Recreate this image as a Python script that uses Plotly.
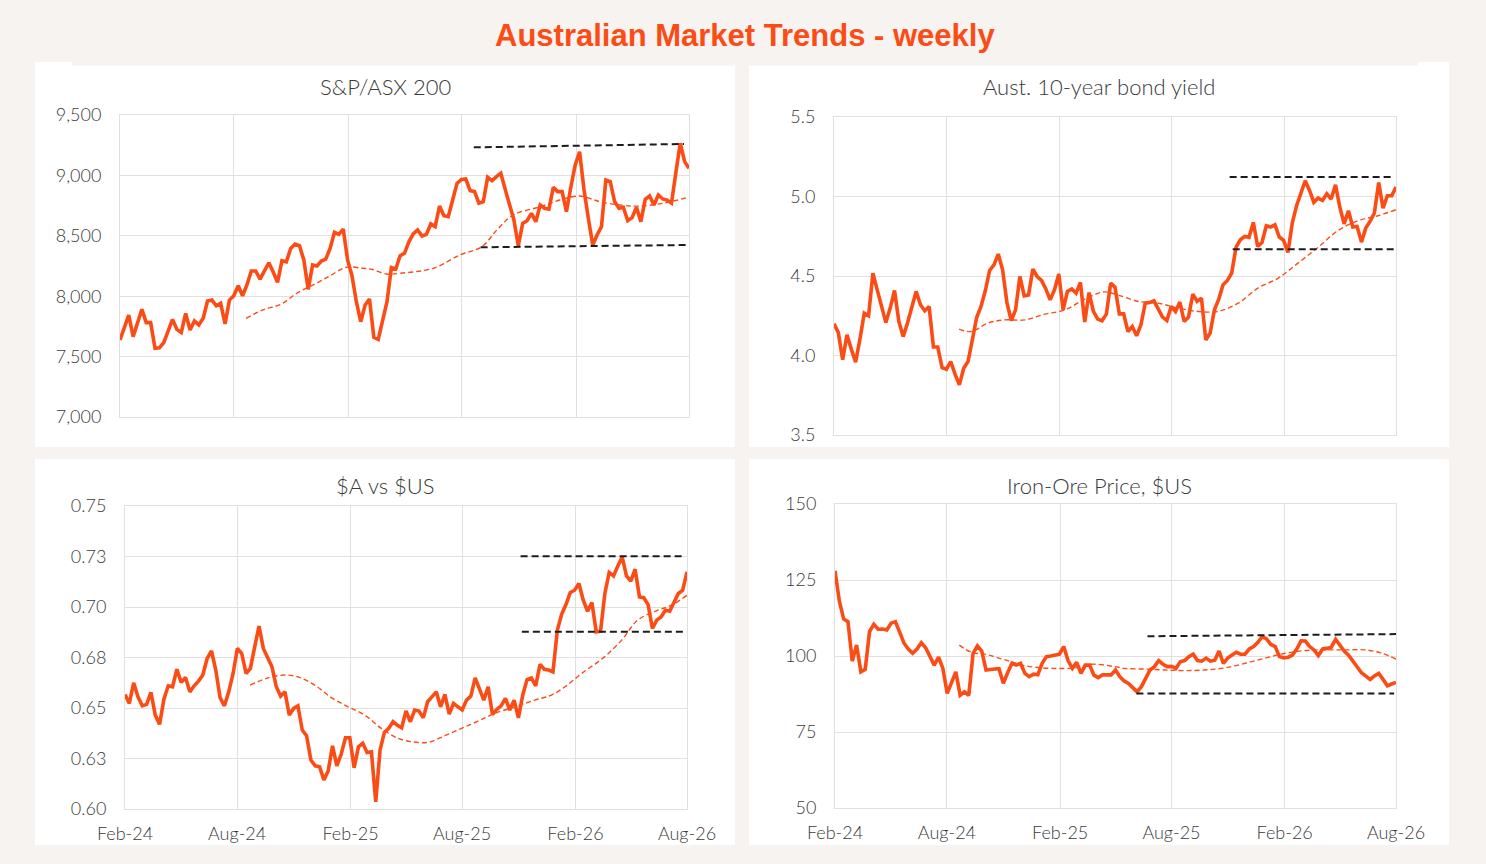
import pandas as pd
import plotly.graph_objects as go

# ---------------- data ----------------
START, END = "2024-02-01", "2026-08-01"
tick_dates = ["2024-02-01", "2024-08-01", "2025-02-01", "2025-08-01", "2026-02-01", "2026-08-01"]
tick_labels = ["Feb-24", "Aug-24", "Feb-25", "Aug-25", "Feb-26", "Aug-26"]

titles = ["S&P/ASX 200", "Aust. 10-year bond yield", "$A vs $US", "Iron-Ore Price, $US"]

asx = [7638, 7740, 7844, 7665, 7780, 7891, 7781, 7781, 7568, 7572, 7616, 7710,
       7808, 7725, 7700, 7858, 7720, 7795, 7762, 7817, 7960, 7968,
       7921, 7941, 7770, 7968, 8004, 8087, 8004, 8093, 8209, 8209,
       8142, 8210, 8277, 8200, 8115, 8294, 8285, 8396, 8432, 8419, 8300,
       8057, 8258, 8250, 8291, 8306, 8396, 8529, 8512, 8556, 8300,
       8170, 7954, 7789, 7927, 7977, 7660, 7643, 7797, 7954, 8236,
       8225, 8335, 8355, 8450, 8515, 8548, 8498, 8512, 8598, 8576,
       8746, 8666, 8658, 8796, 8934, 8967, 8970, 8874, 8866, 8770,
       8783, 8984, 8956, 8990, 9017, 8885, 8763, 8631, 8418, 8603,
       8625, 8686, 8617, 8755, 8728, 8720, 8902, 8866, 8866, 8700,
       8902, 9086, 9196, 8885, 8645, 8424, 8507, 8576, 8962, 8948,
       8783, 8728, 8736, 8625, 8650, 8736, 8617, 8802, 8829, 8755,
       8838, 8805, 8796, 8770, 9023, 9266, 9114, 9059]

bond = [4.199, 4.144, 3.973, 4.130, 4.040, 3.958, 4.103, 4.266, 4.250, 4.518,
        4.413, 4.308, 4.207, 4.298, 4.409, 4.214, 4.119, 4.204, 4.308, 4.403,
        4.319, 4.281, 4.308, 4.053, 4.053, 3.924, 3.914, 3.962, 3.883, 3.815,
        3.920, 3.962, 4.098, 4.239, 4.308, 4.407, 4.535, 4.570, 4.638, 4.539,
        4.333, 4.220, 4.287, 4.497, 4.375, 4.380, 4.543, 4.497, 4.472, 4.419,
        4.350, 4.413, 4.512, 4.287, 4.403, 4.419, 4.392, 4.459, 4.210, 4.396,
        4.277, 4.229, 4.218,
        4.260, 4.455, 4.430, 4.262, 4.262, 4.151, 4.182, 4.124, 4.193, 4.329,
        4.333, 4.344, 4.292, 4.241, 4.220, 4.308, 4.277, 4.336, 4.214, 4.241,
        4.386, 4.340, 4.361, 4.098, 4.141, 4.287, 4.355, 4.445, 4.472, 4.518,
        4.682, 4.728, 4.749, 4.743, 4.837, 4.686, 4.711, 4.816, 4.808, 4.822,
        4.745, 4.724, 4.648, 4.833, 4.942, 5.025, 5.099, 5.038, 4.963, 4.990,
        4.975, 5.017, 4.984, 5.074, 4.934, 4.828, 4.910, 4.808, 4.812, 4.713,
        4.801, 4.843, 4.896, 5.088, 4.927, 5.005, 5.005, 5.059]

aud = [0.6567, 0.6523, 0.6625, 0.6555, 0.6511, 0.6518, 0.6577, 0.6465, 0.6419, 0.6544,
       0.6610, 0.6605, 0.6692, 0.6627, 0.6651, 0.6580, 0.6610, 0.6633, 0.6663, 0.6745,
       0.6783, 0.6688, 0.6551, 0.6511, 0.6580, 0.6671, 0.6795, 0.6770, 0.6671, 0.6696,
       0.6803, 0.6905, 0.6795, 0.6750, 0.6704, 0.6605, 0.6559, 0.6580, 0.6465, 0.6498,
       0.6511, 0.6391, 0.6363, 0.6242, 0.6214, 0.6209, 0.6144, 0.6188, 0.6313, 0.6214,
       0.6271, 0.6353, 0.6353, 0.6204, 0.6308, 0.6325, 0.6280, 0.6283, 0.6036, 0.6292,
       0.6379, 0.6399, 0.6432, 0.6415, 0.6402,
       0.6485, 0.6432, 0.6490, 0.6485, 0.6451, 0.6531, 0.6555, 0.6580, 0.6506, 0.6567,
       0.6470, 0.6523, 0.6506, 0.6490, 0.6539, 0.6559, 0.6649, 0.6593, 0.6539, 0.6605,
       0.6468, 0.6493, 0.6511, 0.6548, 0.6490, 0.6539, 0.6451, 0.6564, 0.6641, 0.6649,
       0.6610, 0.6716, 0.6692, 0.6688, 0.6679, 0.6885, 0.6964, 0.7012, 0.7072, 0.7083,
       0.7116, 0.7034, 0.6979, 0.7022, 0.6877, 0.6880, 0.7067, 0.7171, 0.7154, 0.7203,
       0.7248, 0.7154, 0.7128, 0.7187, 0.7050, 0.7046, 0.7012, 0.6894, 0.6935, 0.6951,
       0.6984, 0.6979, 0.7022, 0.7067, 0.7083, 0.7174]

iron = [128.0, 118.1, 112.2, 111.3, 98.3, 103.6, 94.8, 95.6, 108.0, 110.4,
        108.8, 108.9, 108.6, 110.8, 111.3, 107.8, 104.2, 102.3, 100.9, 102.3,
        104.4, 102.7, 99.8, 97.0, 99.6, 95.9, 87.7, 91.0, 94.8, 87.1,
        88.2, 87.1, 100.9, 103.3, 101.6, 95.4, 95.7, 95.7, 95.8, 91.0,
        94.5, 97.6, 97.0, 97.6, 94.3, 93.2, 94.0, 93.8, 97.6, 99.8,
        100.0, 100.3, 100.6, 103.1, 98.5, 95.9, 97.9, 94.3, 97.0, 97.0,
        93.7, 92.9, 93.8,
        93.8, 93.8, 95.4, 93.2, 91.8, 91.0, 89.6, 88.2, 89.9, 92.9,
        95.4, 96.5, 98.5, 97.3, 96.5, 96.6, 95.9, 98.1, 98.5, 99.8,
        100.6, 98.5, 98.3, 99.3, 98.3, 98.6, 101.6, 97.6, 99.3, 100.3,
        101.2, 100.6, 100.6, 102.3, 103.1, 104.5, 106.4, 105.6, 103.8, 103.1,
        99.8, 99.4, 99.6, 100.3, 102.3, 105.0, 104.9, 103.1, 102.0, 100.1,
        102.3, 102.5, 102.9, 105.5, 103.4, 101.6, 100.3, 98.4, 96.8, 94.5,
        93.4, 92.3, 93.4, 94.3, 92.3, 90.2, 90.8, 91.3]

# moving averages
asx_ma_dates = ["2024-08-21", "2024-09-17", "2024-10-17", "2024-11-10", "2024-12-12", "2025-01-03",
                "2025-01-29", "2025-02-24", "2025-03-10", "2025-04-03", "2025-04-25", "2025-06-17",
                "2025-07-30", "2025-09-03", "2025-09-27", "2025-10-23", "2025-12-05", "2026-01-06",
                "2026-02-07", "2026-03-11", "2026-04-12", "2026-05-14", "2026-06-21", "2026-08-01"]
asx_ma = [7817, 7886, 7936, 8024, 8107, 8170, 8240, 8231, 8223, 8184, 8190, 8231,
          8341, 8410, 8548, 8672, 8740, 8796, 8829, 8783, 8755, 8746, 8770, 8820]

bond_ma_dates = ["2024-08-22", "2024-09-11", "2024-10-08", "2024-11-04", "2024-12-07", "2025-01-08",
                 "2025-02-10", "2025-03-14", "2025-04-15", "2025-05-07", "2025-06-09", "2025-07-11",
                 "2025-08-13", "2025-09-14", "2025-10-16", "2025-11-18", "2025-12-20", "2026-01-22",
                 "2026-02-23", "2026-03-28", "2026-04-29", "2026-06-01", "2026-07-03", "2026-08-01"]
bond_ma = [4.166, 4.151, 4.204, 4.224, 4.224, 4.260, 4.287, 4.355, 4.400, 4.380, 4.340, 4.329,
           4.298, 4.277, 4.277, 4.329, 4.424, 4.487, 4.581, 4.682, 4.786, 4.849, 4.879, 4.917]

aud_ma_dates = ["2024-08-22", "2024-09-20", "2024-10-17", "2024-11-08", "2024-12-05", "2025-01-01",
                "2025-01-28", "2025-02-24", "2025-03-23", "2025-04-19", "2025-05-11", "2025-06-07",
                "2025-07-04", "2025-07-31", "2025-08-27", "2025-09-23", "2025-10-26", "2025-11-27",
                "2025-12-24", "2026-01-15", "2026-02-11", "2026-03-20", "2026-04-17", "2026-05-13",
                "2026-06-15", "2026-07-07", "2026-08-01"]
aud_ma = [0.6613, 0.6649, 0.6663, 0.6654, 0.6613, 0.6551, 0.6506, 0.6465, 0.6399, 0.6350,
          0.6333, 0.6330, 0.6363, 0.6399, 0.6435, 0.6473, 0.6506, 0.6539, 0.6564, 0.6605,
          0.6671, 0.6753, 0.6836, 0.6935, 0.6984, 0.7009, 0.7058]

iron_ma_dates = ["2024-08-21", "2024-09-10", "2024-10-02", "2024-10-23", "2024-11-14", "2024-12-06",
                 "2025-01-02", "2025-01-29", "2025-02-25", "2025-03-24", "2025-05-01", "2025-05-17",
                 "2025-06-19", "2025-07-21", "2025-08-23", "2025-09-24", "2025-10-27", "2025-11-29",
                 "2025-12-31", "2026-02-02", "2026-03-06", "2026-04-08", "2026-05-10", "2026-06-12",
                 "2026-07-09", "2026-08-01"]
iron_ma = [103.6, 101.2, 100.6, 99.4, 98.1, 96.8, 96.1, 95.9, 96.1, 97.3, 96.5, 95.9,
           95.7, 95.4, 95.2, 95.4, 96.1, 97.6, 99.3, 100.9, 101.8, 102.0, 102.0, 102.0,
           100.9, 99.0]

# trading-range lines (start/end dates and levels)
asx_hi_dates, asx_hi = ["2025-08-21", "2026-07-24"], [9232, 9260]
asx_lo_dates, asx_lo = ["2025-09-01", "2026-08-01"], [8405, 8424]
bond_hi_dates, bond_hi = ["2025-11-04", "2026-07-29"], [5.122, 5.122]
bond_lo_dates, bond_lo = ["2025-11-09", "2026-08-01"], [4.669, 4.669]
aud_hi_dates, aud_hi = ["2025-11-04", "2026-07-28"], [0.7251, 0.7251]
aud_lo_dates, aud_lo = ["2025-11-06", "2026-07-31"], [0.6877, 0.6877]
iron_hi_dates, iron_hi = ["2025-06-23", "2026-08-01"], [106.5, 107.2]
iron_lo_dates, iron_lo = ["2025-06-05", "2026-07-29"], [87.7, 87.7]

aud_tickvals = [0.60, 0.625, 0.65, 0.675, 0.70, 0.725, 0.75]
aud_ticktext = ["0.60", "0.63", "0.65", "0.68", "0.70", "0.73", "0.75"]

# ---------------- figure ----------------
W, H = 1486, 864
ORANGE = "#FC4C16"
BLACK = "#1c1c1c"
GRID = "#e0e0e0"
TXT = "#3a3a3a"
BG = "#f7f3f0"
FONT = "Lato"


def px_x(v):
    return v / W


def px_y(v):
    return 1 - v / H


series = [
    dict(vals=asx, ma_d=asx_ma_dates, ma=asx_ma, hi=(asx_hi_dates, asx_hi), lo=(asx_lo_dates, asx_lo),
         dom=((120, 689), (115, 417)), yr=[7000, 9500], dtick=500, fmt=",d", xlab=False),
    dict(vals=bond, ma_d=bond_ma_dates, ma=bond_ma, hi=(bond_hi_dates, bond_hi), lo=(bond_lo_dates, bond_lo),
         dom=((834, 1396), (117, 435)), yr=[3.5, 5.5], dtick=0.5, fmt=".1f", xlab=False),
    dict(vals=aud, ma_d=aud_ma_dates, ma=aud_ma, hi=(aud_hi_dates, aud_hi), lo=(aud_lo_dates, aud_lo),
         dom=((125, 687), (506, 809)), yr=[0.60, 0.75], dtick=None, fmt=None, xlab=True),
    dict(vals=iron, ma_d=iron_ma_dates, ma=iron_ma, hi=(iron_hi_dates, iron_hi), lo=(iron_lo_dates, iron_lo),
         dom=((835, 1396), (504, 808)), yr=[50, 150], dtick=25, fmt="d", xlab=True),
]

tickfont = dict(family=FONT, size=18, color=TXT, weight=300)

fig = go.Figure()
layout = {}
for i, s in enumerate(series, start=1):
    xa = "x" if i == 1 else f"x{i}"
    ya = "y" if i == 1 else f"y{i}"
    dates = pd.date_range(START, END, periods=len(s["vals"]))
    fig.add_trace(go.Scatter(x=dates, y=s["vals"], xaxis=xa, yaxis=ya, mode="lines",
                             line=dict(color=ORANGE, width=3.6), showlegend=False))
    fig.add_trace(go.Scatter(x=pd.to_datetime(s["ma_d"]), y=s["ma"], xaxis=xa, yaxis=ya, mode="lines",
                             line=dict(color=ORANGE, width=1.4, dash="5px,3px", shape="spline"),
                             showlegend=False))
    for d, v in (s["hi"], s["lo"]):
        fig.add_trace(go.Scatter(x=pd.to_datetime(d), y=v, xaxis=xa, yaxis=ya, mode="lines",
                                 line=dict(color=BLACK, width=2, dash="7px,4px"), showlegend=False))
    (x0, x1), (y0, y1) = s["dom"]
    xkey = "xaxis" if i == 1 else f"xaxis{i}"
    ykey = "yaxis" if i == 1 else f"yaxis{i}"
    layout[xkey] = dict(domain=[px_x(x0), px_x(x1)], anchor=ya, type="date",
                        range=[START, END], tickmode="array", tickvals=tick_dates,
                        ticktext=tick_labels, showticklabels=s["xlab"],
                        showgrid=True, gridcolor=GRID, gridwidth=1, zeroline=False,
                        showline=True, linecolor=GRID, mirror=True, ticks="",
                        tickfont=tickfont, ticklabelstandoff=8, automargin=False)
    yax = dict(domain=[px_y(y1), px_y(y0)], anchor=xa, range=s["yr"],
               showgrid=True, gridcolor=GRID, gridwidth=1, zeroline=False,
               showline=True, linecolor=GRID, mirror=True, ticks="",
               tickfont=tickfont, ticklabelstandoff=14, automargin=False)
    if s["dtick"] is None:
        yax.update(tickmode="array", tickvals=aud_tickvals, ticktext=aud_ticktext)
    else:
        yax.update(tick0=s["yr"][0], dtick=s["dtick"], tickformat=s["fmt"])
    layout[ykey] = yax

# white panels and title band
shapes = []
panels = [((35, 735), (62, 447)), ((749, 1449), (62, 447)),
          ((35, 735), (459, 845)), ((749, 1449), (459, 845))]
for (x0, x1), (y0, y1) in panels:
    shapes.append(dict(type="rect", xref="paper", yref="paper", layer="below",
                       x0=px_x(x0), x1=px_x(x1), y0=px_y(y1), y1=px_y(y0),
                       fillcolor="white", line=dict(width=0)))
shapes.append(dict(type="rect", xref="paper", yref="paper", layer="below",
                   x0=px_x(72), x1=px_x(1418), y0=px_y(65.5), y1=1,
                   fillcolor=BG, line=dict(width=0)))

annotations = [dict(text="<b>Australian Market Trends - weekly</b>", x=px_x(745), y=px_y(36),
                    xref="paper", yref="paper", showarrow=False, xanchor="center", yanchor="middle",
                    font=dict(family="Liberation Sans", size=31, color=ORANGE))]
title_pos = [(385, 87), (1099, 87), (385, 485), (1099, 485)]
for t, (cx, cy) in zip(titles, title_pos):
    annotations.append(dict(text=t, x=px_x(cx), y=px_y(cy), xref="paper", yref="paper",
                            showarrow=False, xanchor="center", yanchor="middle",
                            font=dict(family=FONT, size=22, color=TXT, weight=300)))

fig.update_layout(width=W, height=H, margin=dict(l=0, r=0, t=0, b=0, autoexpand=False),
                  paper_bgcolor=BG, plot_bgcolor="white",
                  showlegend=False, shapes=shapes, annotations=annotations, **layout)

fig.write_html("out.html", config={"displayModeBar": False},
               post_script="document.body.style.margin='0';document.body.style.background='%s';" % BG)
